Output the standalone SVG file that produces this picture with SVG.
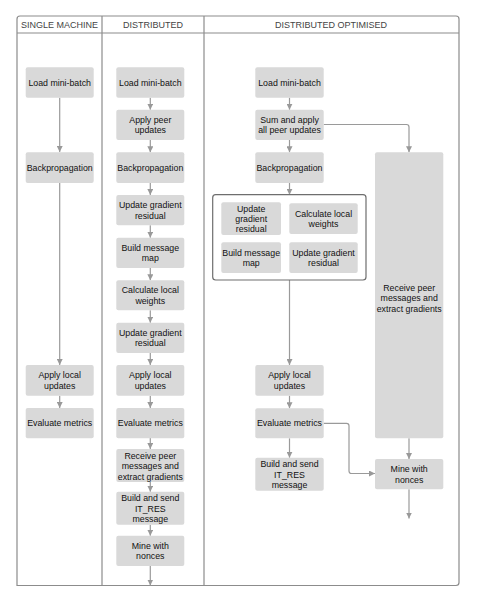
<svg xmlns="http://www.w3.org/2000/svg" width="477" height="604" viewBox="0 0 477 604">
<defs>
<marker id="ah" viewBox="0 0 6 6" refX="6" refY="3" markerWidth="6" markerHeight="6" markerUnits="userSpaceOnUse" orient="auto">
<path d="M0,0 L6,3 L0,6 z" fill="#999"/>
</marker>
<style>
.n{fill:#d9d9d9}
.t{font-family:"Liberation Sans",Arial,sans-serif;font-size:8.8px;fill:#111;text-anchor:middle}
.h{font-family:"Liberation Sans",Arial,sans-serif;font-size:9px;fill:#444;text-anchor:middle}
.c{fill:none;stroke:#9a9a9a;stroke-width:1.2;marker-end:url(#ah)}
.f{fill:none;stroke:#8c8c8c;stroke-width:1.2}
</style>
</defs>
<rect width="477" height="604" fill="#fff"/>
<g id="frame">
<path class="f" d="M17,585.5 V19 Q17,16 20,16 H456 Q459,16 459,19 V582.5 Q459,585.5 456,585.5 Z"/>
<line class="f" x1="17" y1="33" x2="459" y2="33"/>
<line class="f" x1="102" y1="16" x2="102" y2="585.5"/>
<line class="f" x1="204" y1="16" x2="204" y2="585.5"/>
<text class="h" x="59.5" y="28">SINGLE MACHINE</text>
<text class="h" x="153" y="28">DISTRIBUTED</text>
<text class="h" x="331" y="28">DISTRIBUTED OPTIMISED</text>
</g>
<g id="connectors">
<line class="c" x1="59.7" y1="97.7" x2="59.7" y2="152"/>
<line class="c" x1="59.7" y1="183" x2="59.7" y2="365"/>
<line class="c" x1="59.7" y1="395.7" x2="59.7" y2="408"/>
<line class="c" x1="150.3" y1="97.7" x2="150.3" y2="109.7"/>
<line class="c" x1="150.3" y1="140" x2="150.3" y2="152.3"/>
<line class="c" x1="150.3" y1="183" x2="150.3" y2="195"/>
<line class="c" x1="150.3" y1="225.3" x2="150.3" y2="237.7"/>
<line class="c" x1="150.3" y1="268" x2="150.3" y2="280.3"/>
<line class="c" x1="150.3" y1="310.3" x2="150.3" y2="322.7"/>
<line class="c" x1="150.3" y1="353" x2="150.3" y2="365"/>
<line class="c" x1="150.3" y1="395.7" x2="150.3" y2="408"/>
<line class="c" x1="150.3" y1="438" x2="150.3" y2="449"/>
<line class="c" x1="150.3" y1="482" x2="150.3" y2="491.7"/>
<line class="c" x1="150.3" y1="524.7" x2="150.3" y2="535.7"/>
<line class="c" x1="150.3" y1="566" x2="150.3" y2="585.5"/>
<line class="c" x1="289.5" y1="97.7" x2="289.5" y2="109.7"/>
<line class="c" x1="289.5" y1="140" x2="289.5" y2="152.3"/>
<line class="c" x1="289.5" y1="183" x2="289.5" y2="194.7"/>
<path class="c" d="M323.7,124.5 H406.5 Q409,124.5 409,127 V152.3"/>
<line class="c" x1="289.5" y1="280" x2="289.5" y2="365"/>
<line class="c" x1="289.5" y1="395.7" x2="289.5" y2="408.3"/>
<line class="c" x1="289.5" y1="438.3" x2="289.5" y2="457.7"/>
<line class="c" x1="409" y1="438.3" x2="409" y2="459"/>
<path class="c" d="M323.7,423.3 H346.5 Q349,423.3 349,425.8 V471 Q349,473.5 351.5,473.5 H375"/>
<line class="c" x1="409" y1="489.3" x2="409" y2="518.5"/>
</g>
<g id="s1">
<rect class="n" x="25.7" y="67.3" width="68" height="30.4" rx="2"/>
<text class="t" x="59.7" y="85.5">Load mini-batch</text>
</g>
<g id="s2">
<rect class="n" x="25.7" y="152.3" width="68" height="30.7" rx="2"/>
<text class="t" x="59.7" y="170.7">Backpropagation</text>
</g>
<g id="s3">
<rect class="n" x="25.7" y="365" width="68" height="30.7" rx="2"/>
<text class="t" x="59.7" y="378">Apply local</text>
<text class="t" x="59.7" y="388.5">updates</text>
</g>
<g id="s4">
<rect class="n" x="25.7" y="408" width="68" height="30.3" rx="2"/>
<text class="t" x="59.7" y="426.2">Evaluate metrics</text>
</g>
<g id="d1">
<rect class="n" x="116.3" y="67.3" width="68" height="30.4" rx="2"/>
<text class="t" x="150.3" y="85.5">Load mini-batch</text>
</g>
<g id="d2">
<rect class="n" x="116.3" y="109.7" width="68" height="30.3" rx="2"/>
<text class="t" x="150.3" y="122.5">Apply peer</text>
<text class="t" x="150.3" y="133">updates</text>
</g>
<g id="d3">
<rect class="n" x="116.3" y="152.3" width="68" height="30.7" rx="2"/>
<text class="t" x="150.3" y="170.7">Backpropagation</text>
</g>
<g id="d4">
<rect class="n" x="116.3" y="195" width="68" height="30.3" rx="2"/>
<text class="t" x="150.3" y="208">Update gradient</text>
<text class="t" x="150.3" y="218.5">residual</text>
</g>
<g id="d5">
<rect class="n" x="116.3" y="237.7" width="68" height="30.3" rx="2"/>
<text class="t" x="150.3" y="250.7">Build message</text>
<text class="t" x="150.3" y="261.2">map</text>
</g>
<g id="d6">
<rect class="n" x="116.3" y="280.3" width="68" height="30" rx="2"/>
<text class="t" x="150.3" y="293.2">Calculate local</text>
<text class="t" x="150.3" y="303.7">weights</text>
</g>
<g id="d7">
<rect class="n" x="116.3" y="322.7" width="68" height="30.3" rx="2"/>
<text class="t" x="150.3" y="335.7">Update gradient</text>
<text class="t" x="150.3" y="346.2">residual</text>
</g>
<g id="d8">
<rect class="n" x="116.3" y="365" width="68" height="30.7" rx="2"/>
<text class="t" x="150.3" y="378">Apply local</text>
<text class="t" x="150.3" y="388.5">updates</text>
</g>
<g id="d9">
<rect class="n" x="116.3" y="408" width="68" height="30.3" rx="2"/>
<text class="t" x="150.3" y="426.2">Evaluate metrics</text>
</g>
<g id="d10">
<rect class="n" x="116.3" y="449" width="68" height="33" rx="2"/>
<text class="t" x="150.3" y="458.5">Receive peer</text>
<text class="t" x="150.3" y="469">messages and</text>
<text class="t" x="150.3" y="479.5">extract gradients</text>
</g>
<g id="d11">
<rect class="n" x="116.3" y="491.7" width="68" height="33" rx="2"/>
<text class="t" x="150.3" y="501">Build and send</text>
<text class="t" x="150.3" y="511.5">IT_RES</text>
<text class="t" x="150.3" y="522">message</text>
</g>
<g id="d12">
<rect class="n" x="116.3" y="535.7" width="68" height="30.3" rx="2"/>
<text class="t" x="150.3" y="548.7">Mine with</text>
<text class="t" x="150.3" y="559.2">nonces</text>
</g>
<g id="o1">
<rect class="n" x="255.3" y="67.3" width="68.4" height="30.4" rx="2"/>
<text class="t" x="289.5" y="85.5">Load mini-batch</text>
</g>
<g id="o2">
<rect class="n" x="255.3" y="109.7" width="68.4" height="30.3" rx="2"/>
<text class="t" x="289.5" y="122.5">Sum and apply</text>
<text class="t" x="289.5" y="133">all peer updates</text>
</g>
<g id="o3">
<rect class="n" x="255.3" y="152.3" width="68.4" height="30.7" rx="2"/>
<text class="t" x="289.5" y="170.7">Backpropagation</text>
</g>
<g id="ogroup">
<rect x="212.7" y="194.7" width="153.3" height="85.3" rx="3" fill="#fff" stroke="#6e6e6e" stroke-width="1.2"/>
<g id="og1">
<rect class="n" x="221.3" y="202.3" width="59.7" height="32.7" rx="2"/>
<text class="t" x="251.2" y="211.5">Update</text>
<text class="t" x="251.2" y="221.5">gradient</text>
<text class="t" x="251.2" y="231.5">residual</text>
</g>
<g id="og2">
<rect class="n" x="289.3" y="203.3" width="68.4" height="30.7" rx="2"/>
<text class="t" x="323.5" y="216.5">Calculate local</text>
<text class="t" x="323.5" y="227">weights</text>
</g>
<g id="og3">
<rect class="n" x="221.3" y="242.3" width="59.7" height="30.7" rx="2"/>
<text class="t" x="251.2" y="255.5">Build message</text>
<text class="t" x="251.2" y="266">map</text>
</g>
<g id="og4">
<rect class="n" x="289.3" y="242.3" width="68.4" height="30.7" rx="2"/>
<text class="t" x="323.5" y="255.5">Update gradient</text>
<text class="t" x="323.5" y="266">residual</text>
</g>
</g>
<g id="o4">
<rect class="n" x="375" y="152.3" width="68.3" height="286" rx="2"/>
<text class="t" x="409.2" y="290.5">Receive peer</text>
<text class="t" x="409.2" y="301">messages and</text>
<text class="t" x="409.2" y="311.5">extract gradients</text>
</g>
<g id="o5">
<rect class="n" x="255.3" y="365" width="68.4" height="30.7" rx="2"/>
<text class="t" x="289.5" y="378">Apply local</text>
<text class="t" x="289.5" y="388.5">updates</text>
</g>
<g id="o6">
<rect class="n" x="255.3" y="408.3" width="68.4" height="30" rx="2"/>
<text class="t" x="289.5" y="426.4">Evaluate metrics</text>
</g>
<g id="o7">
<rect class="n" x="255.3" y="457.7" width="68.4" height="33" rx="2"/>
<text class="t" x="289.5" y="467">Build and send</text>
<text class="t" x="289.5" y="477.5">IT_RES</text>
<text class="t" x="289.5" y="488">message</text>
</g>
<g id="o8">
<rect class="n" x="375" y="459" width="68.3" height="30.3" rx="2"/>
<text class="t" x="409.2" y="472">Mine with</text>
<text class="t" x="409.2" y="482.5">nonces</text>
</g>
</svg>
